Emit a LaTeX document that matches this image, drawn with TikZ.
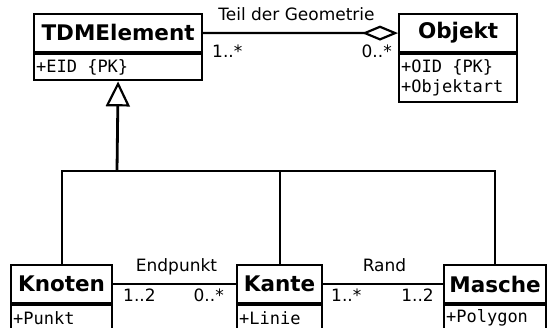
\documentclass[tikz,border=0pt]{standalone}
\usepackage{fontspec}
\setmainfont{DejaVu Sans}
\setmonofont{DejaVu Sans Mono}
\usetikzlibrary{arrows.meta}
\newcommand{\msp}{\hspace{0.602em}}
\begin{document}
\begin{tikzpicture}[x=1pt,y=-1pt,
  box/.style={draw, line width=2.2pt, inner sep=0pt, anchor=north west},
  title/.style={box, font=\fontsize{21.5}{24}\bfseries\selectfont},
  attr/.style={box, font=\fontsize{17}{20}\ttfamily\selectfont, align=left, inner xsep=2pt},
  lbl/.style={font=\fontsize{17}{19}\selectfont, inner sep=0pt},
  conn/.style={line width=2.2pt}]
\useasboundingbox (0,0) rectangle (547,328);
% classes
\node[title, minimum width=168pt, minimum height=37.7pt] (tdm) at (33,13) {TDMElement};
\node[attr, minimum width=168pt, minimum height=26.3pt, text width=164pt] (tdma) at (tdm.south west) {+EID\msp\{PK\}};
\node[title, minimum width=118pt, minimum height=38pt] (obj) at (398,13) {Objekt};
\node[attr, minimum width=118pt, minimum height=48pt, text width=114pt] (obja) at (obj.south west) {+OID\msp\{PK\}\\+Objektart};
\node[title, minimum width=101pt, minimum height=38pt] (knoten) at (10,264) {Knoten};
\node[attr, minimum width=101pt, minimum height=25.5pt, text width=97pt] (knotena) at (knoten.south west) {+Punkt};
\node[title, minimum width=85pt, minimum height=38pt] (kante) at (236,264) {Kante};
\node[attr, minimum width=85pt, minimum height=25.5pt, text width=81pt] (kantea) at (kante.south west) {+Linie};
\node[title, minimum width=102pt, minimum height=38pt] (masche) at (443,264) {Masche};
\node[attr, minimum width=102pt, minimum height=25.5pt, text width=98pt] (maschea) at (masche.south west) {+Polygon};
% aggregation
\draw[conn, -{Diamond[open, length=36pt, width=15pt]}] (tdm.east) -- (obj.west);
\node[lbl, anchor=base] (l1) at (296.5,20.5) {Teil der Geometrie};
\node[lbl, anchor=base west] (l2) at (212,58) {1..*};
\node[lbl, anchor=base east] (l3) at (392,58) {0..*};
% inheritance
\coordinate (hub) at (117,171);
\draw[conn, line width=2.8pt, -{Triangle[open, length=25pt, width=24pt, line width=2.2pt]}] (hub) -- (tdma.south);
\draw[conn] (knoten.north) |- (hub) -| (masche.north);
\draw[conn] (kante.north) -- (kante.north |- hub);
% associations
\draw[conn] (knoten.east) -- (kante.west);
\node[lbl, anchor=base] (l4) at (176.5,272) {Endpunkt};
\node[lbl, anchor=base west] (l5) at (123,302) {1..2};
\node[lbl, anchor=base east] (l6) at (224,302) {0..*};
\draw[conn] (kante.east) -- (masche.west);
\node[lbl, anchor=base] (l7) at (384.5,272) {Rand};
\node[lbl, anchor=base west] (l8) at (331,302) {1..*};
\node[lbl, anchor=base east] (l9) at (434,302) {1..2};
\end{tikzpicture}
\end{document}
